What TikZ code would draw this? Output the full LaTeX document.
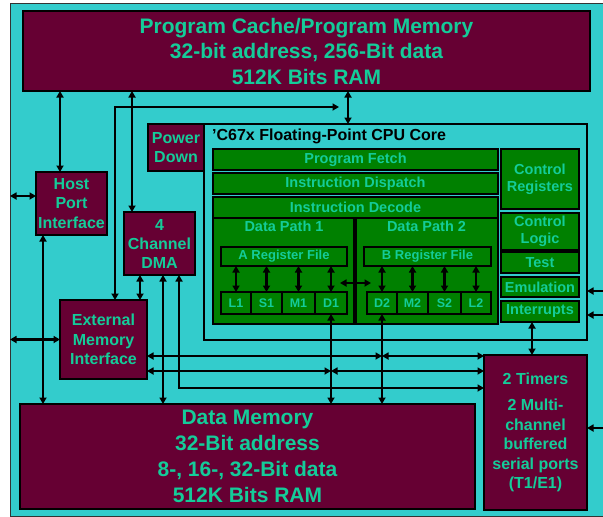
\documentclass[tikz,border=0pt]{standalone}
\usepackage{fontspec}
\setmainfont{Liberation Sans}
\usetikzlibrary{arrows.meta,positioning}
\definecolor{bgcyan}{RGB}{51,204,204}
\definecolor{maroon}{RGB}{102,0,51}
\definecolor{cpugreen}{RGB}{0,128,0}
\definecolor{txtgreen}{RGB}{20,204,153}
\begin{document}
\begin{tikzpicture}[x=1pt,y=-1pt,
    >={Triangle[length=6.5pt,width=7pt]},
    mem/.style={draw=black,line width=2.4pt,fill=maroon,text=txtgreen,align=center,
      inner sep=0pt,outer sep=0pt,anchor=north west,font=\bfseries\fontsize{16}{19.5}\selectfont},
    bigmem/.style={mem,font=\bfseries\fontsize{21}{25.5}\selectfont},
    core/.style={draw=black,line width=2pt,fill=cpugreen,text=txtgreen,align=center,
      inner sep=0pt,outer sep=0pt,anchor=north west,font=\bfseries\fontsize{14.5}{17}\selectfont},
    unit/.style={core,minimum height=22pt,font=\bfseries\fontsize{12.5}{14}\selectfont},
    lbl/.style={text=txtgreen,inner sep=0pt,font=\bfseries\fontsize{14.5}{17}\selectfont},
    link/.style={line width=2.4pt,<->}]
  \useasboundingbox[fill=white] (0,0) rectangle (603,517);
  \node[draw=black!80,line width=1.2pt,fill=bgcyan,anchor=north west,inner sep=0pt,
    minimum width=600pt,minimum height=513pt] (frame) at (10,3) {};
  % memories and peripherals
  \node[bigmem,minimum width=567pt,minimum height=80pt] (pm) at (23,11)
    {Program Cache/Program Memory\\32-bit address, 256-Bit data\\512K Bits RAM};
  \node[mem,minimum width=71pt,minimum height=63pt] (hpi) at (36,172) {Host\\Port\\Interface};
  \node[mem,minimum width=56pt,minimum height=47pt] (pwr) at (148,124) {Power\\Down};
  \node[mem,minimum width=71pt,minimum height=63pt,font=\bfseries\fontsize{16}{19}\selectfont]
    (dma) at (124,212) {4\\Channel\\DMA};
  \node[mem,minimum width=87pt,minimum height=79pt] (emif) at (60,300) {External\\Memory\\Interface};
  \node[bigmem,minimum width=455pt,minimum height=105pt,font=\bfseries\fontsize{21}{26}\selectfont]
    (dm) at (20,404) {Data Memory\\32-Bit address\\8-, 16-, 32-Bit data\\512K Bits RAM};
  \node[mem,minimum width=103pt,minimum height=155pt] (tmr) at (484,355)
    {2 Timers\\[7pt]2 Multi-\\channel\\buffered\\serial ports\\(T1/E1)};
  % CPU core
  \node[draw=black,line width=2pt,fill=bgcyan,anchor=north west,inner sep=0pt,outer sep=0pt,
    minimum width=383pt,minimum height=216pt] (cpu) at (204,124) {};
  \node[anchor=west,inner sep=0pt,font=\bfseries\fontsize{16}{19}\selectfont]
    (cputitle) at ([xshift=8pt,yshift=-12pt]cpu.north west) {’C67x Floating-Point CPU Core};
  \node[core,minimum width=285pt,minimum height=21pt] (pf) at (213,149) {Program Fetch};
  \node[core,minimum width=285pt,minimum height=21pt] (idp) at (213,173) {Instruction Dispatch};
  \node[core,minimum width=285pt,minimum height=21pt] (idc) at (213,197) {Instruction Decode};
  \node[core,minimum width=142pt,minimum height=106pt] (dp1) at (213,218) {};
  \node[core,minimum width=143pt,minimum height=106pt] (dp2) at (355,218) {};
  \draw[line width=3.5pt] (dp1.north east) -- (dp1.south east);
  \node[lbl,below=3pt of dp1.north] (dp1t) {Data Path 1};
  \node[lbl,below=3pt of dp2.north] (dp2t) {Data Path 2};
  \node[core,minimum width=126pt,minimum height=19pt,font=\bfseries\fontsize{13}{15}\selectfont]
    (arf) at (221,247) {A Register File};
  \node[core,minimum width=127pt,minimum height=19pt,font=\bfseries\fontsize{13}{15}\selectfont]
    (brf) at (364,247) {B Register File};
  \node[unit,minimum width=30pt] (l1) at (221,292) {L1};
  \node[unit,minimum width=31pt] (s1) at (251,292) {S1};
  \node[unit,minimum width=33pt] (m1) at (282,292) {M1};
  \node[unit,minimum width=32pt] (d1) at (315,292) {D1};
  \node[unit,minimum width=30pt] (d2) at (367,292) {D2};
  \node[unit,minimum width=31pt] (m2) at (397,292) {M2};
  \node[unit,minimum width=33pt] (s2) at (428,292) {S2};
  \node[unit,minimum width=30pt] (l2) at (461,292) {L2};
  \node[core,minimum width=78pt,minimum height=60pt] (creg) at (501,149) {Control\\Registers};
  \node[core,minimum width=78pt,minimum height=37pt] (clog) at (501,213) {Control\\Logic};
  \node[core,minimum width=78pt,minimum height=21pt] (test) at (501,252) {Test};
  \node[core,minimum width=78pt,minimum height=20pt] (emu) at (501,277) {Emulation};
  \node[core,minimum width=78pt,minimum height=21pt] (intr) at (501,301) {Interrupts};
  % bus columns and rows
  \coordinate (xh) at (60,0);   \coordinate (xd) at (132,0);
  \coordinate (xe) at (115,0);  \coordinate (xc) at (348,0);
  \coordinate (xl) at (43,0);   \coordinate (xm1) at (140,0);
  \coordinate (xm2) at (163,0); \coordinate (xm3) at (179,0);
  \coordinate (xi) at (532,0);  \coordinate (edge) at (606,0);
  \coordinate (busend) at (339,107); \coordinate (hy) at (0,196);
  \coordinate (r356) at (0,356); \coordinate (r371) at (0,371); \coordinate (r388) at (0,388);
  \coordinate (r291) at (0,291); \coordinate (r315) at (0,315); \coordinate (r428) at (0,428);
  % connectors
  \draw[link] (hpi.north -| xh) -- (pm.south -| xh);
  \draw[link] (dma.north -| xd) -- (pm.south -| xd);
  \draw[link] (cpu.north -| xc) -- (pm.south -| xc);
  \draw[link] (emif.north -| xe) |- (busend);
  \draw[link] (frame.west |- hy) -- (hpi.west |- hy);
  \draw[link] (hpi.south -| xl) -- (dm.north -| xl);
  \draw[link] (frame.west |- emif.west) -- (emif.west);
  \draw[link] (dma.south -| xm1) -- (emif.north -| xm1);
  \draw[link] (dma.south -| xm2) -- (dm.north -| xm2);
  \draw[link] (dma.south -| xm3) |- (tmr.west |- r388);
  \draw[link] (emif.east |- r356) -- (d2.south |- r356);
  \draw[link] (d2.south |- r356) -- (tmr.west |- r356);
  \draw[link] (emif.east |- r371) -- (d1.south |- r371);
  \draw[link] (d1.south |- r371) -- (tmr.west |- r371);
  \draw[link] (d1.south) -- (d1.south |- dm.north);
  \draw[link] (d2.south) -- (d2.south |- dm.north);
  \draw[link] (intr.south -| xi) -- (tmr.north -| xi);
  \draw[line width=2.4pt,->] (edge |- r291) -- (cpu.east |- r291);
  \draw[line width=2.4pt,->] (edge |- r315) -- (cpu.east |- r315);
  \draw[line width=2.4pt,->] (edge |- r428) -- (tmr.east |- r428);
  \foreach \u in {l1,s1,m1,d1}
    \draw[link] (\u.north) -- (\u.north |- arf.south);
  \foreach \u in {d2,m2,s2,l2}
    \draw[link] (\u.north) -- (\u.north |- brf.south);
  \draw[link] ([xshift=-7pt,yshift=9pt]d1.north east) -- ([xshift=4pt,yshift=9pt]d2.north west);
\end{tikzpicture}
\end{document}
